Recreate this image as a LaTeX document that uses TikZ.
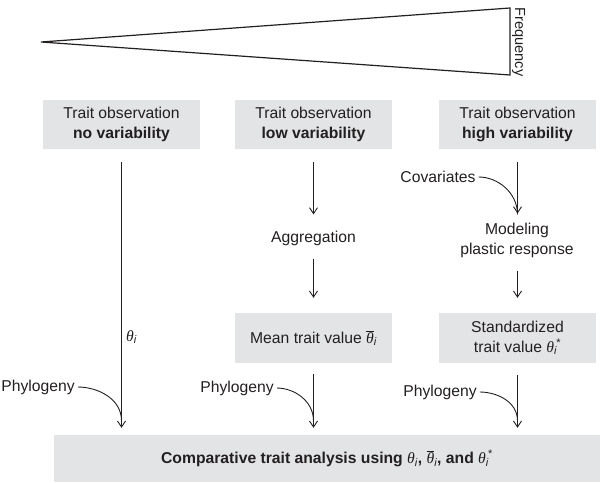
\RequirePackage{fix-cm}
\documentclass[tikz,border=0pt]{standalone}
\usepackage{fontspec}
\setmainfont{Liberation Sans}
\newfontfamily\serifit{Liberation Serif}[ItalicFont={* Italic}]
\usetikzlibrary{arrows.meta,calc}
\definecolor{ink}{HTML}{231F20}
\definecolor{boxgray}{HTML}{E3E4E6}
\newcommand{\thsym}{{\serifit\mdseries\itshape θ}}
\newcommand{\subi}{\textsubscript{\mdseries\itshape i}}
\newcommand{\thi}{\thsym\subi}
\newcommand{\thbar}{$\overline{\mbox{\thsym}}$\subi}
\newcommand{\thstar}{\thsym\subi\kern-0.05em\textsuperscript{\mdseries *}}
\begin{document}
\begin{tikzpicture}[x=1pt,y=-1pt,
  every node/.style={text=ink, font=\fontsize{15.7}{20}\selectfont},
  graybox/.style={fill=boxgray, draw=none, minimum width=157pt, minimum height=49pt, align=center, inner sep=0pt},
  plain/.style={inner sep=0pt, align=center},
  flow/.style={draw=ink, line width=0.9pt, -{Straight Barb[length=6pt,width=8pt,line width=0.9pt]}},
  feed/.style={draw=ink, line width=0.9pt}
]
\useasboundingbox (0,0) rectangle (609,482);
% frequency wedge
\draw[draw=ink, line width=1.2pt, line join=miter] (41,42) -- (510,8) -- (510,75) -- cycle;
\node[plain, rotate=-90, font=\fontsize{14.6}{16}\selectfont] (freq) at (518.5,42) {Frequency};
% top boxes
\node[graybox] (b1) at (121.5,124.5) {Trait observation\\\textbf{no variability}};
\node[graybox] (b2) at (313.5,124.5) {Trait observation\\\textbf{low variability}};
\node[graybox] (b3) at (517.5,124.5) {Trait observation\\\textbf{high variability}};
% intermediate
\node[plain] (agg) at (313.5,238) {Aggregation};
\node[plain] (cov) at (438,177) {Covariates};
\node[plain] (model) at (517,240) {Modeling\\plastic response};
\node[graybox, minimum height=50pt] (mean) at (313.5,338) {Mean trait value \thbar};
\node[graybox, minimum height=50pt] (std) at (517.5,338) {Standardized\\trait value \thstar};
\node[graybox, minimum width=546pt, minimum height=47pt] (bot) at (327,458.5) {\textbf{Comparative trait analysis using \thi, \thbar, and \thstar}};
% labels
\node[plain, anchor=west] (th) at (126,337) {\thi};
\node[plain] (p1) at (38,387) {Phylogeny};
\node[plain] (p2) at (237,388) {Phylogeny};
\node[plain] (p3) at (440,392) {Phylogeny};
% main arrows
\draw[flow, shorten <=13pt, shorten >=7pt] (b1.south) -- (b1.south |- bot.north);
\draw[flow, shorten <=13pt, shorten >=16pt] (b2.south) -- (agg.north);
\draw[flow, shorten <=13pt, shorten >=15pt] (agg.south) -- (mean.north);
\draw[flow, shorten <=11pt, shorten >=7pt] (mean.south) -- (mean.south |- bot.north);
\draw[flow, shorten <=13pt, shorten >=9pt] (b3.south) -- (b3.south |- model.north);
\draw[flow, shorten <=13pt, shorten >=15pt] (b3.south |- model.south) -- (std.north);
\draw[flow, shorten <=12pt, shorten >=7pt] (std.south) -- (std.south |- bot.north);
% feeding curves
\draw[feed, shorten <=3pt] (p1.east) to[out=0, in=90] ([yshift=14pt]b1.south |- bot.north);
\draw[feed, shorten <=3pt] (p2.east) to[out=0, in=90] ([yshift=14pt]mean.south |- bot.north);
\draw[feed, shorten <=3pt] (p3.east) to[out=0, in=90] ([yshift=14pt]std.south |- bot.north);
\draw[feed, shorten <=3pt] (cov.east) to[out=0, in=90] ([yshift=8pt]b3.south |- model.north);
\end{tikzpicture}
\end{document}
